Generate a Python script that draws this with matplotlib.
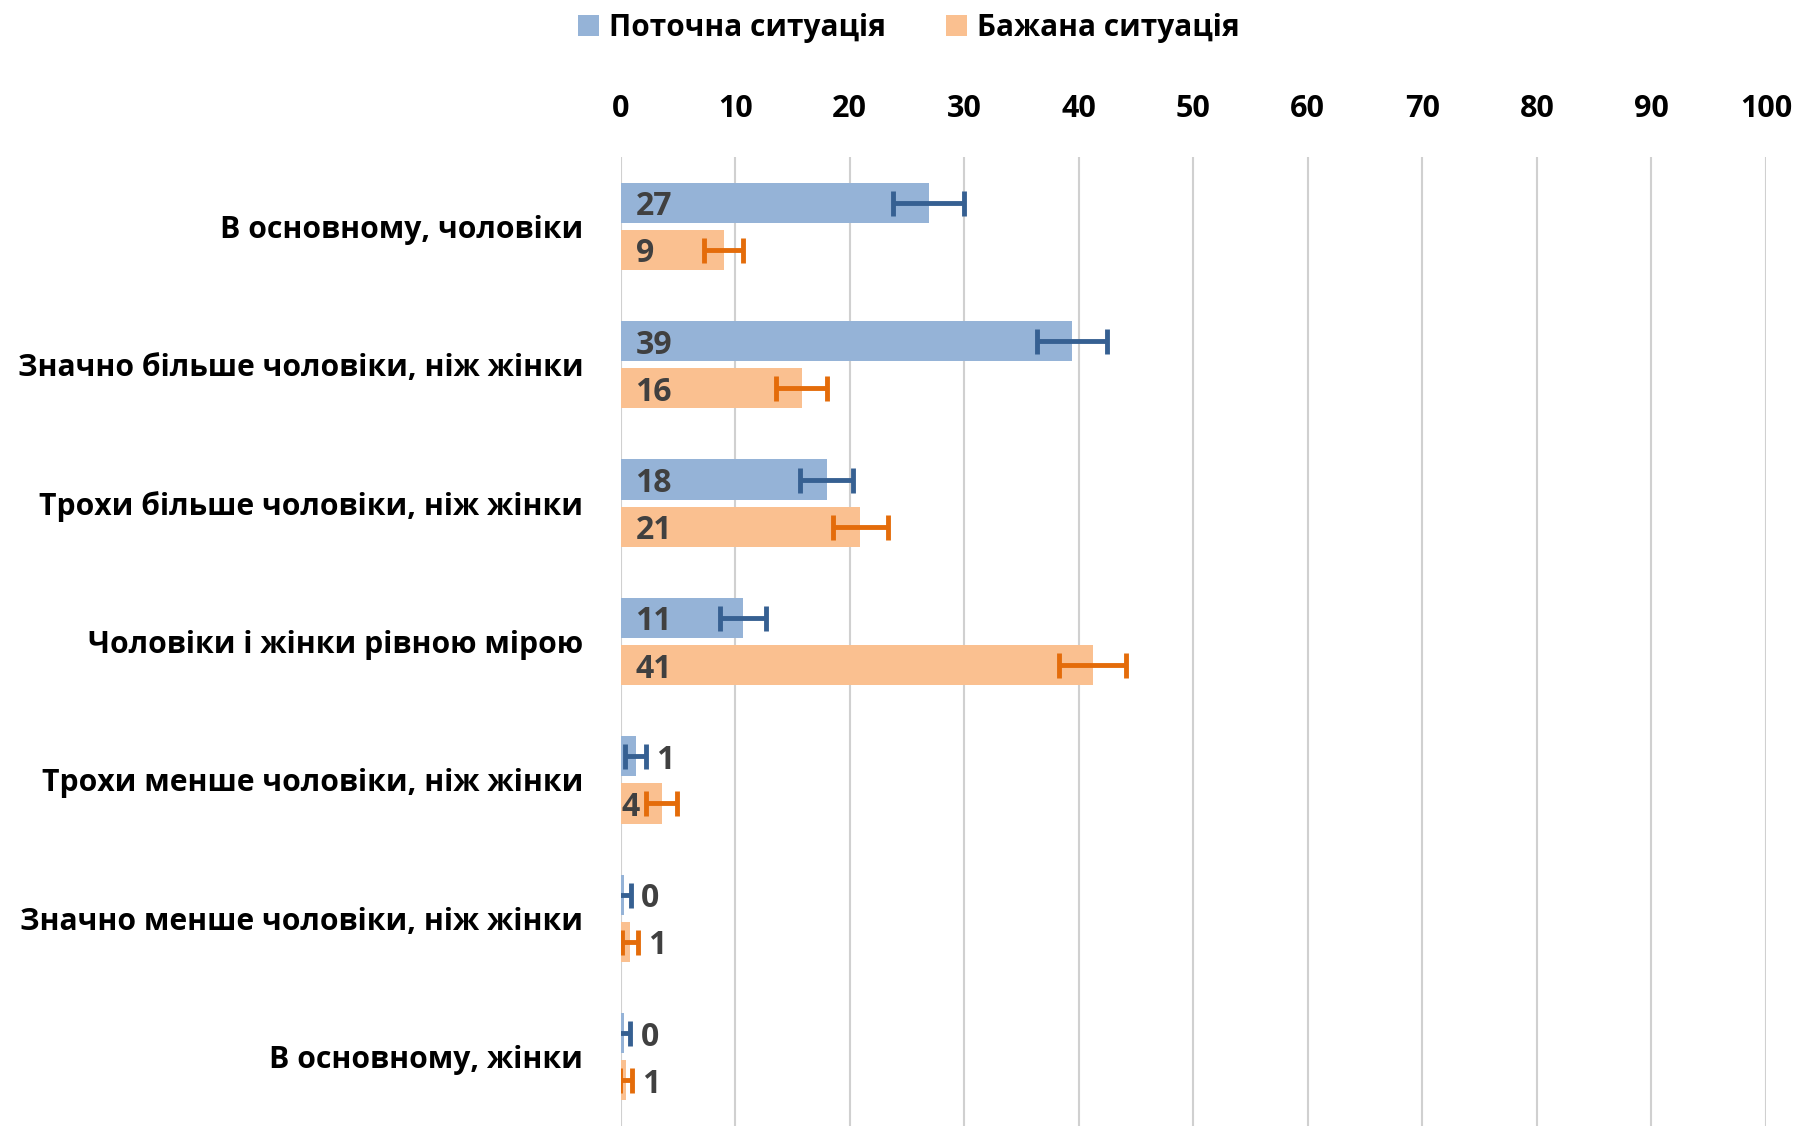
import matplotlib
matplotlib.use("Agg")
import matplotlib.pyplot as plt
import numpy as np

# ── Data ──────────────────────────────────────────────────────────────────────
categories = [
    "В основному, чоловіки",
    "Значно більше чоловіки, ніж жінки",
    "Трохи більше чоловіки, ніж жінки",
    "Чоловіки і жінки рівною мірою",
    "Трохи менше чоловіки, ніж жінки",
    "Значно менше чоловіки, ніж жінки",
    "В основному, жінки",
]
series_names = ["Поточна ситуація", "Бажана ситуація"]
current = [26.9, 39.4, 18.0, 10.7, 1.3, 0.3, 0.25]
current_err = [3.1, 3.05, 2.3, 2.0, 0.9, 0.6, 0.6]
current_labels = [27, 39, 18, 11, 1, 0, 0]
desired = [9.0, 15.8, 20.9, 41.2, 3.6, 0.8, 0.45]
desired_err = [1.7, 2.25, 2.4, 2.9, 1.35, 0.7, 0.55]
desired_labels = [9, 16, 21, 41, 4, 1, 1]
xticks = list(range(0, 101, 10))

bar_colors = ["#95B3D7", "#FAC090"]
err_colors = ["#366092", "#E46C0A"]

plt.rcParams["font.family"] = ["Open Sans", "DejaVu Sans"]

fig = plt.figure(figsize=(18.09, 11.26), dpi=100)
ax = fig.add_axes([0.3431, 0.0, 0.6331, 0.8606])

y = np.arange(len(categories))
h = 0.29
off = 0.17

for vals, errs, labels, sign, bc, ec, name in [
    (current, current_err, current_labels, -1, bar_colors[0], err_colors[0], series_names[0]),
    (desired, desired_err, desired_labels, 1, bar_colors[1], err_colors[1], series_names[1]),
]:
    ypos = y + sign * off
    ax.barh(ypos, vals, height=h, color=bc, label=name, zorder=2)
    ax.errorbar(vals, ypos, xerr=errs, fmt="none", ecolor=ec,
                elinewidth=3.5, capsize=9, capthick=3.5, zorder=3)
    for v, e, lab, yy in zip(vals, errs, labels, ypos):
        if v >= 5:
            x = 1.3
        elif v >= 3:
            x = 0.1
        else:
            x = max(1.4, v + e + 0.9)
        ax.text(x, yy, str(lab), ha="left", va="center_baseline",
                fontsize=23, fontweight="bold", color="#404040", zorder=4)

ax.set_xlim(0, 100)
ax.set_ylim(len(categories) - 0.5, -0.5)
ax.set_xticks(xticks)
ax.xaxis.tick_top()
ax.set_yticks(y)
ax.set_yticklabels(categories)
ax.tick_params(axis="x", length=0, pad=24, labelsize=22, labelcolor="#000000")
ax.tick_params(axis="y", length=0, pad=27, labelsize=21.7, labelcolor="#000000")
for lab in ax.get_xticklabels() + ax.get_yticklabels():
    lab.set_fontweight("bold")

ax.grid(axis="x", color="#D0D0D0", linewidth=1.5, zorder=0)
ax.set_axisbelow(True)
for s in ax.spines.values():
    s.set_visible(False)

fig.legend(loc="upper center", bbox_to_anchor=(0.5025, 1.012), ncol=2,
           frameon=False, handlelength=0.7, handleheight=0.7,
           handletextpad=0.35, columnspacing=2.0,
           prop={"size": 21.5, "weight": "bold"})

fig.savefig("out.png", dpi=100)
